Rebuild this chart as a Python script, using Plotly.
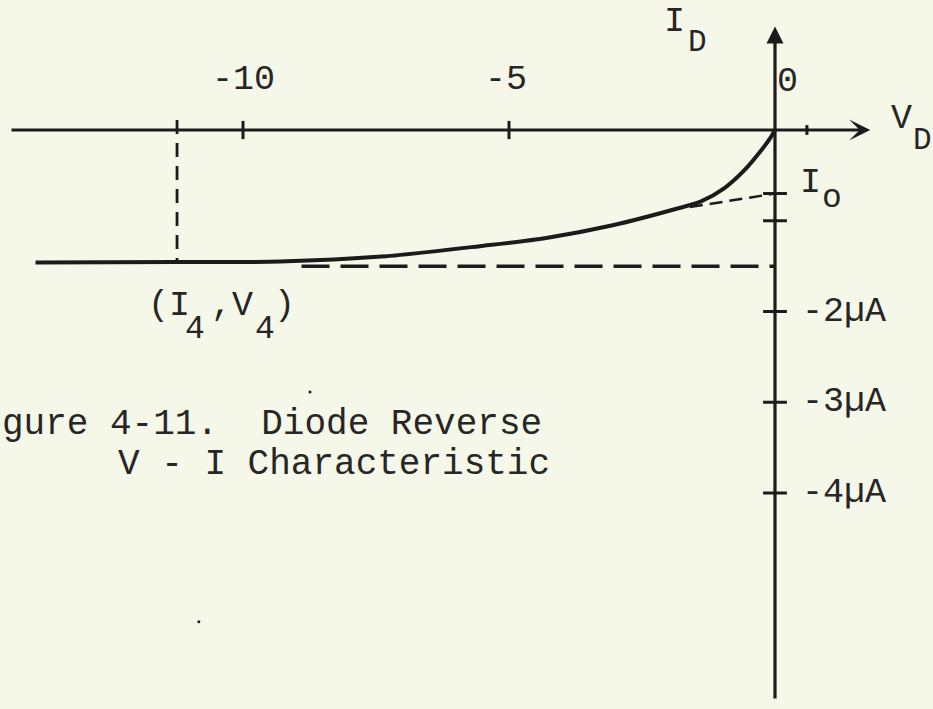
import plotly.graph_objects as go

# ---- data: diode reverse characteristic (V in volts, I in microamps) ----
v_curve = [-13.9, -11.24, -9.3, -7.4, -5.55, -4.3, -3.05, -1.8, -1.4, -0.95, -0.57, -0.28, -0.09, 0.0]
i_curve = [-1.46, -1.455, -1.45, -1.395, -1.28, -1.19, -1.05, -0.86, -0.79, -0.64, -0.44, -0.24, -0.09, 0.0]

i_sat = -1.5            # saturation level (dashed asymptote)
v_sat_from = -8.9       # where the asymptote dashes begin
i_o = -0.7              # intercept of the tangent (I_o)
v_tangent = [-1.6, 0.0]
i_tangent = [-0.85, i_o]
v4 = -11.24             # (I4, V4) operating point
i4 = -1.455

x_ticks = [-10, -5]
x_tick_text = ["-10", "-5"]
x_minor = [0.6]
y_ticks = [-2, -3, -4]
y_tick_text = ["-2\u00b5A", "-3\u00b5A", "-4\u00b5A"]
y_minor = [i_o, -1]

v_axis = [-14.38, 1.79]   # horizontal axis extent
i_axis = [-6.28, 1.14]    # vertical axis extent

speck_v = [-8.74, -10.83]
speck_i = [-2.887, -5.42]

INK = "#1b1b1b"
TEXT = "#262626"
BG = "#f5f7e9"
FONT = "Liberation Mono"

fig = go.Figure()

# characteristic curve
fig.add_trace(go.Scatter(x=v_curve, y=i_curve, mode="lines",
                         line=dict(color=INK, width=4, shape="spline", smoothing=0.8),
                         hoverinfo="skip"))
# saturation asymptote
fig.add_trace(go.Scatter(x=[v_sat_from, 0], y=[i_sat, i_sat], mode="lines",
                         line=dict(color=INK, width=3.5, dash="28px,11px"), hoverinfo="skip"))
# tangent to I_o
fig.add_trace(go.Scatter(x=v_tangent, y=i_tangent, mode="lines",
                         line=dict(color=INK, width=2.5, dash="13px,7px"), hoverinfo="skip"))
# drop line at V4
fig.add_trace(go.Scatter(x=[v4, v4], y=[0.11, i4], mode="lines",
                         line=dict(color=INK, width=2.8, dash="14px,9px"), hoverinfo="skip"))
# tick marks on the horizontal axis
fig.add_trace(go.Scatter(x=x_ticks, y=[0] * len(x_ticks), mode="markers",
                         marker=dict(symbol="line-ns", size=13, line=dict(color=INK, width=3)),
                         hoverinfo="skip"))
fig.add_trace(go.Scatter(x=x_minor, y=[0] * len(x_minor), mode="markers",
                         marker=dict(symbol="line-ns", size=7, line=dict(color=INK, width=3)),
                         hoverinfo="skip"))
# tick marks on the vertical axis
fig.add_trace(go.Scatter(x=[0] * (len(y_ticks) + len(y_minor)), y=y_ticks + y_minor, mode="markers",
                         marker=dict(symbol="line-ew", size=17, line=dict(color=INK, width=3)),
                         hoverinfo="skip"))
# stray specks
fig.add_trace(go.Scatter(x=speck_v, y=speck_i, mode="markers",
                         marker=dict(symbol="circle", size=3, color=INK), hoverinfo="skip"))

annotations = []
# axes with arrowheads
annotations.append(dict(x=v_axis[1], y=0, ax=v_axis[0], ay=0, xref="x", yref="y",
                        axref="x", ayref="y", text="", showarrow=True, arrowhead=3,
                        arrowsize=1.1, arrowwidth=3.2, arrowcolor=INK, standoff=0))
annotations.append(dict(x=0, y=i_axis[1], ax=0, ay=i_axis[0], xref="x", yref="y",
                        axref="x", ayref="y", text="", showarrow=True, arrowhead=2,
                        arrowsize=1.06, arrowwidth=3.2, arrowcolor=INK, standoff=0))

def label(txt, x, y, size=35, xanchor="center", yanchor="middle", xref="x", yref="y"):
    annotations.append(dict(x=x, y=y, xref=xref, yref=yref, text=txt, showarrow=False,
                            xanchor=xanchor, yanchor=yanchor,
                            font=dict(family=FONT, size=size, color=TEXT)))

# horizontal tick labels
for v, t in zip(x_ticks, x_tick_text):
    label(t, v - (0.05 if v == -5 else 0), 0.55)
label("0", 0.226, 0.53)
# vertical tick labels
for i, t in zip(y_ticks, y_tick_text):
    label(t, 0.47, i, xanchor="left")

# axis titles with lowered subscripts
label("I", -1.88, 1.19)
label("D", -1.466, 0.96, size=31)
label("V", 2.387, 0.121)
label("D", 2.78, -0.121, size=31)
label("I", 0.658, -0.584)
label("o", 1.071, -0.76, size=33)

# (I4,V4) point label, subscripts drawn as separate lowered digits
label("(I\u00a0,V\u00a0)", -11.82, -1.939, xanchor="left")
label("4", -10.90, -2.2, size=33)
label("4", -9.59, -2.2, size=33)

# caption
label("gure 4-11.\u00a0\u00a0Diode Reverse", 0.0, 1 - 425 / 709, size=36,
      xanchor="left", xref="paper", yref="paper")
label("V - I Characteristic", 116 / 933, 1 - 464 / 709, size=36,
      xanchor="left", xref="paper", yref="paper")

fig.update_layout(
    width=933, height=709,
    margin=dict(l=0, r=0, t=0, b=0),
    paper_bgcolor=BG, plot_bgcolor=BG,
    showlegend=False,
    xaxis=dict(range=[-775 / 53.2, (933 - 775) / 53.2], visible=False, fixedrange=True),
    yaxis=dict(range=[(130 - 709) / 90.75, 130 / 90.75], visible=False, fixedrange=True),
    annotations=annotations,
)

fig.write_html("out.html")
